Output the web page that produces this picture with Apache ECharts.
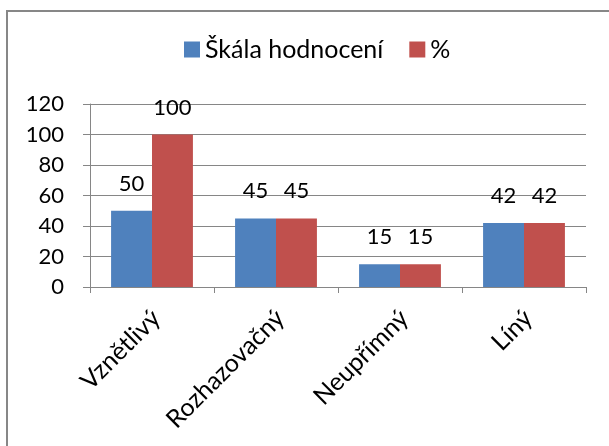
<!DOCTYPE html>
<html>
<head>
<meta charset="utf-8">
<script src="https://cdn.jsdelivr.net/npm/echarts@6/dist/echarts.min.js"></script>
<style>
  html, body { margin: 0; padding: 0; background: #fff; }
  #chart { width: 609px; height: 446px; }
</style>
</head>
<body>
<div id="chart"></div>
<script>
// data
const categories = ['Vznětlivý', 'Rozhazovačný', 'Neupřímný', 'Líný'];
const skala = [50, 45, 15, 42];
const procenta = [100, 45, 15, 42];
const yTicks = { min: 0, max: 120, interval: 20 };

const font = 'Lato';
const myChart = echarts.init(document.getElementById('chart'));

const option = {
  animation: false,
  textStyle: { fontFamily: font },
  graphic: [{
    type: 'rect',
    shape: { x: 7, y: 11, width: 640, height: 480 },
    style: { fill: 'none', stroke: '#878787', lineWidth: 2 }
  }],
  legend: {
    top: 37,
    left: 184,
    padding: 0,
    itemWidth: 16,
    itemHeight: 16,
    itemGap: 26,
    icon: 'rect',
    textStyle: { fontSize: 25, color: '#000', fontFamily: font },
    data: ['Škála hodnocení', '%']
  },
  grid: { left: 90, right: 23, top: 104, bottom: 159 },
  xAxis: {
    type: 'category',
    data: categories,
    axisLine: { lineStyle: { color: '#868686' } },
    axisTick: { show: true, length: 6, lineStyle: { color: '#868686' } },
    axisLabel: {
      rotate: 45, fontSize: 25, color: '#000', margin: 23,
      verticalAlign: 'top', lineHeight: 12, fontFamily: font
    }
  },
  yAxis: {
    type: 'value',
    min: yTicks.min,
    max: yTicks.max,
    interval: yTicks.interval,
    axisLine: { show: true, lineStyle: { color: '#868686' } },
    axisTick: { show: true, length: 7, lineStyle: { color: '#868686' } },
    splitLine: { lineStyle: { color: '#868686' } },
    axisLabel: { fontSize: 22, color: '#000', margin: 26, fontFamily: font }
  },
  series: [
    {
      name: 'Škála hodnocení',
      type: 'bar',
      data: skala,
      barGap: '0%',
      barCategoryGap: '34%',
      itemStyle: { color: '#4F81BD' },
      label: { show: true, position: 'top', distance: 16, fontSize: 22, color: '#000', fontFamily: font }
    },
    {
      name: '%',
      type: 'bar',
      data: procenta,
      itemStyle: { color: '#C0504D' },
      label: { show: true, position: 'top', distance: 16, fontSize: 22, color: '#000', fontFamily: font }
    }
  ]
};

option && myChart.setOption(option);
</script>
</body>
</html>
